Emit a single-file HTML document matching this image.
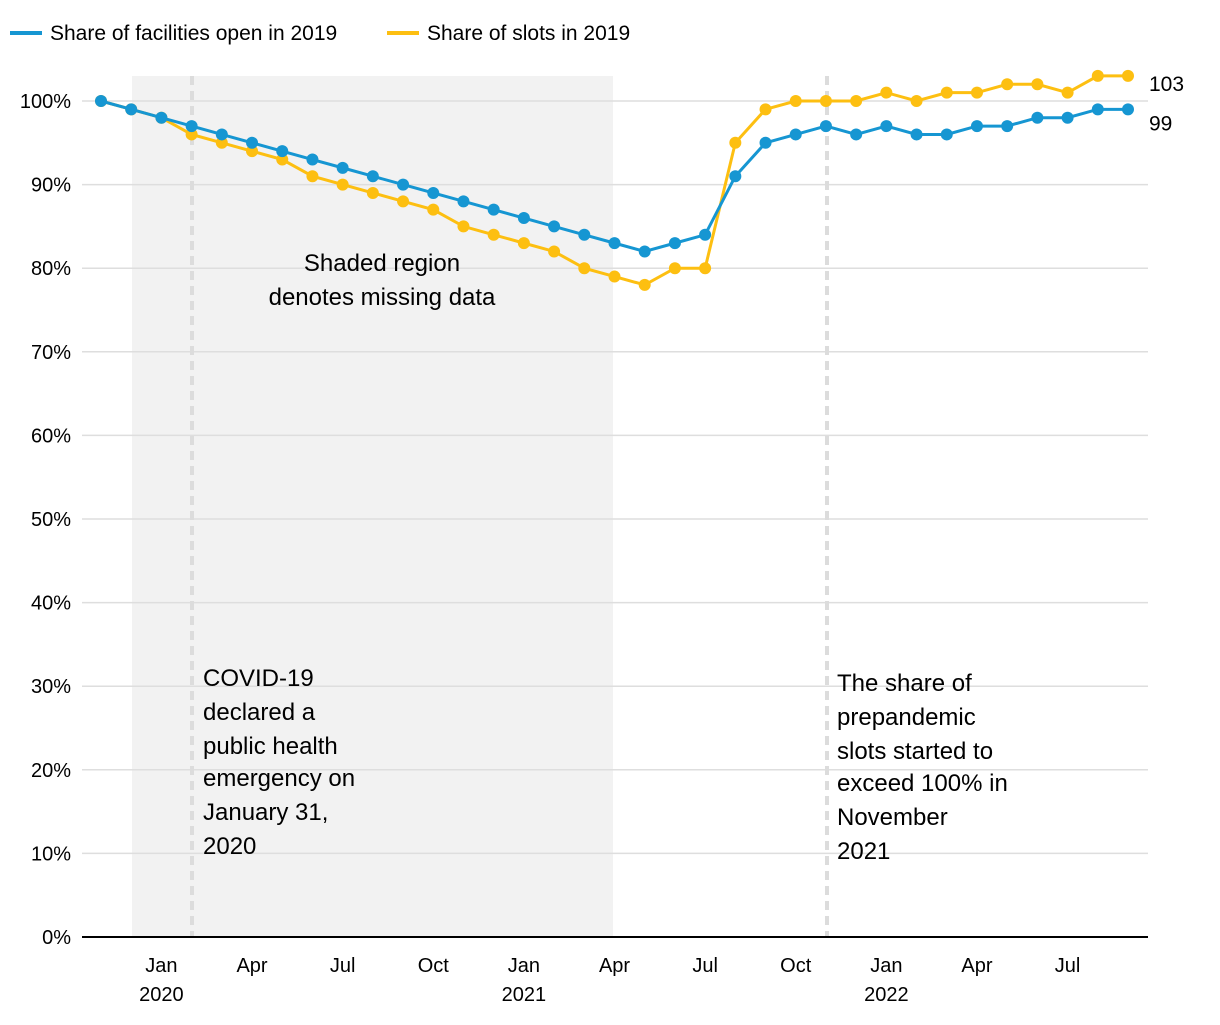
<!DOCTYPE html>
<html><head><meta charset="utf-8"><style>
body{margin:0;background:#fff;font-family:"Liberation Sans",sans-serif}
svg text{font-family:"Liberation Sans",sans-serif;fill:#000}
</style></head><body>
<svg id="chart" width="1220" height="1020" viewBox="0 0 1220 1020">
<g>
 <line x1="10" y1="33" x2="42" y2="33" stroke="#1696d2" stroke-width="4"/>
 <text x="50" y="40" font-size="21">Share of facilities open in 2019</text>
 <line x1="387" y1="33" x2="419" y2="33" stroke="#fdbf11" stroke-width="4"/>
 <text x="427" y="40" font-size="21">Share of slots in 2019</text>
</g>
<rect x="132" y="76" width="481" height="861" fill="#f2f2f2"/>
<g id="grid"></g>
<g id="yaxis"></g>
<g id="xaxis"></g>
<line x1="192" y1="76" x2="192" y2="937" stroke="#dcdcdc" stroke-width="4" stroke-dasharray="9,6"/>
<line x1="827" y1="76" x2="827" y2="937" stroke="#dcdcdc" stroke-width="4" stroke-dasharray="9,6"/>
<line x1="82" y1="937" x2="1148" y2="937" stroke="#000" stroke-width="2"/>
<g id="series"></g>
<text font-size="24" text-anchor="middle"><tspan x="382" y="271">Shaded region</tspan><tspan x="382" y="305">denotes missing data</tspan></text>
<text font-size="24"><tspan x="203" y="686">COVID-19</tspan><tspan x="203" y="720">declared a</tspan><tspan x="203" y="754">public health</tspan><tspan x="203" y="786">emergency on</tspan><tspan x="203" y="820">January 31,</tspan><tspan x="203" y="854">2020</tspan></text>
<text font-size="24"><tspan x="837" y="691">The share of</tspan><tspan x="837" y="725">prepandemic</tspan><tspan x="837" y="759">slots started to</tspan><tspan x="837" y="791">exceed 100% in</tspan><tspan x="837" y="825">November</tspan><tspan x="837" y="859">2021</tspan></text>
</svg>
<script>
const facilities=[100,99,98,97,96,95,94,93,92,91,90,89,88,87,86,85,84,83,82,83,84,91,95,96,97,96,97,96,96,97,97,98,98,99,99];
const slots=[100,99,98,96,95,94,93,91,90,89,88,87,85,84,83,82,80,79,78,80,80,95,99,100,100,100,101,100,101,101,102,102,101,103,103];
const yTicks=[0,10,20,30,40,50,60,70,80,90,100];
const xTickMonths=[2,5,8,11,14,17,20,23,26,29,32];
const xTickLabels=["Jan","Apr","Jul","Oct","Jan","Apr","Jul","Oct","Jan","Apr","Jul"];
const xTickYears={2:"2020",14:"2021",26:"2022"};
const NS="http://www.w3.org/2000/svg";
const x=i=>101+i*(1128-101)/34;
const y=v=>937-v*8.36;
function mk(tag,attrs,parent){const e=document.createElementNS(NS,tag);for(const k in attrs)e.setAttribute(k,attrs[k]);parent.appendChild(e);return e;}
const grid=document.getElementById('grid'),ya=document.getElementById('yaxis'),xa=document.getElementById('xaxis'),ser=document.getElementById('series');
yTicks.forEach(t=>{
 if(t>0){const l=mk('line',{x1:82,x2:1148,y1:y(t),y2:y(t),stroke:'#dedede','stroke-width':1.5},grid);
 
 }
 const tx=mk('text',{x:71,y:y(t)+7,'font-size':20,'text-anchor':'end'},ya);tx.textContent=t+'%';
 
 
});
xTickMonths.forEach((m,i)=>{
 const tx=mk('text',{x:x(m),y:972,'font-size':20,'text-anchor':'middle'},xa);tx.textContent=xTickLabels[i];
 
 
 if(xTickYears[m]){const yr=mk('text',{x:x(m),y:1001,'font-size':20,'text-anchor':'middle'},xa);yr.textContent=xTickYears[m];
 
 }
});
function draw(vals,color,name,dy){
 const g=mk('g',{},ser);
 
 
 const p=mk('polyline',{points:vals.map((v,i)=>x(i)+','+y(v)).join(' '),fill:'none',stroke:color,'stroke-width':3},g);
 
 
 vals.forEach((v,i)=>{const c=mk('circle',{cx:x(i),cy:y(v),r:6,fill:color},g);
 
 });
 const lb=mk('text',{x:x(vals.length-1)+21,y:y(vals[vals.length-1])+dy,'font-size':21},g);lb.textContent=vals[vals.length-1];
 
 
}
draw(slots,'#fdbf11','slots',15);
draw(facilities,'#1696d2','facilities',21);
</script>
</body></html>
